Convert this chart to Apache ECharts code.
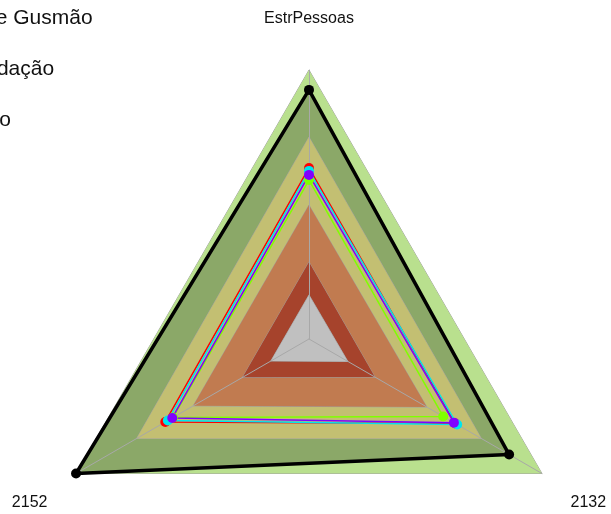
<!DOCTYPE html>
<html>
<head>
<meta charset="utf-8">
<script src="https://cdn.jsdelivr.net/npm/echarts@6/dist/echarts.min.js"></script>
<style>
  html, body { margin: 0; padding: 0; background: #fff; }
  #chart { width: 611px; height: 514px; }
</style>
</head>
<body>
<div id="chart"></div>
<script>
// indicators, top first then counter-clockwise
const indicators = ['EstrPessoas', '2152', '2132'];

// background bands (percent of the axis max)
const bandOuter = [100, 100, 100];
const bandOlive = [92.6, 100, 85.9];
const bandKhaki = [75.1, 74.0, 74.0];
const bandOrange = [49.8, 49.7, 50.6];
const bandDarkRed = [28.6, 28.5, 28.3];
const bandGray = [16.4, 16.4, 16.7];

// series
const seriesNames = ['Colégio de Gusmão', 'Recomendação', 'Orçamento', 'Média', 'Referência'];
const valBlack = [92.6, 100, 85.9];
const valRed = [63.6, 61.7, 62.8];
const valCyan = [62.5, 60.6, 63.6];
const valLime = [59.1, 58.4, 57.6];
const valPurple = [61.0, 58.7, 62.2];

const bandColors = ['#b9e08e', '#8ba868', '#c3bf72', '#c17b50', '#a6432c', '#c0c0c0'];
const bands = [bandOuter, bandOlive, bandKhaki, bandOrange, bandDarkRed, bandGray];

const chart = echarts.init(document.getElementById('chart'));

const option = {
  animation: false,
  legend: {
    orient: 'vertical',
    left: -128,
    top: 3,
    itemWidth: 25,
    itemHeight: 14,
    itemGap: 30,
    selectedMode: false,
    data: seriesNames.slice(0, 3),
    textStyle: { fontFamily: 'Liberation Sans, Arial', fontSize: 21, lineHeight: 21, color: '#111' }
  },
  radar: {
    center: [309, 339],
    radius: 269,
    startAngle: 90,
    shape: 'polygon',
    splitNumber: 1,
    nameGap: 33,
    axisName: {
      color: '#111',
      fontFamily: 'Liberation Sans, Arial',
      fontSize: 16,
      lineHeight: 26,
      padding: [0, 0, 5, 0],
      // the lower names sit a line lower than the top one
      formatter: name => (name === indicators[0] ? name : '\n' + name)
    },
    indicator: indicators.map(n => ({ name: n, min: 0, max: 100 })),
    axisLine: { lineStyle: { color: '#a8a8a8', width: 1 } },
    splitLine: { show: false },
    splitArea: { show: false }
  },
  series: [
    {
      type: 'radar',
      z: -1,
      silent: true,
      symbol: 'none',
      data: bands.map((b, i) => ({
        value: b,
        lineStyle: { color: '#a0a0a0', width: 1 },
        areaStyle: { color: bandColors[i], opacity: 1 }
      }))
    },
    {
      type: 'radar',
      symbol: 'circle',
      symbolSize: 10,
      emphasis: { disabled: true },
      data: [
        { name: seriesNames[0], value: valBlack, itemStyle: { color: '#000' }, lineStyle: { color: '#000', width: 3.5 } },
        { name: seriesNames[1], value: valRed, itemStyle: { color: '#ff0000' }, lineStyle: { color: '#ff0000', width: 1.5 } },
        { name: seriesNames[2], value: valCyan, itemStyle: { color: '#00e5ee' }, lineStyle: { color: '#00e5ee', width: 1.5 } },
        { name: seriesNames[3], value: valLime, itemStyle: { color: '#80ff00' }, lineStyle: { color: '#80ff00', width: 1.5 } },
        { name: seriesNames[4], value: valPurple, itemStyle: { color: '#8000ff' }, lineStyle: { color: '#8000ff', width: 1.5 } }
      ]
    }
  ]
};

chart.setOption(option);
</script>
</body>
</html>
